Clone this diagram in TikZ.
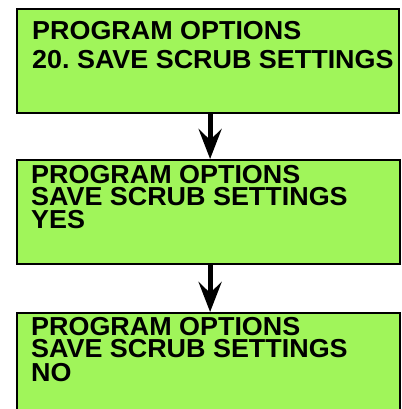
\documentclass[tikz,border=0pt]{standalone}
\usepackage{fontspec}
\setmainfont{Liberation Sans}
\newfontfamily\lcdfont{Liberation Sans}[FakeStretch=1.035]
\usetikzlibrary{arrows.meta}
\definecolor{lcdgreen}{RGB}{160,245,90}
\frenchspacing
\begin{document}
\begin{tikzpicture}[x=1pt,y=-1pt,
  lcdbox/.style={draw=black, line width=2.2pt, fill=lcdgreen, rectangle, inner sep=0pt, anchor=north west},
  lcdline/.style={anchor=base west, inner sep=0pt, font=\lcdfont\fontsize{26}{26}\selectfont\bfseries\frenchspacing},
  flow/.style={line width=5pt, -{Stealth[length=30pt,width=23pt,inset=11pt]}}]
\useasboundingbox (0,0) rectangle (401,409);
\fill[white] (0,0) rectangle (401,409);
\node[lcdbox, minimum width=382pt, minimum height=104pt] (b1) at (16,8) {};
\node[lcdbox, minimum width=383pt, minimum height=104pt] (b2) at (16,159) {};
\node[lcdbox, minimum width=383pt, minimum height=110pt] (b3) at (16,312) {};
\node[lcdline] (t11) at (32,39.3) {PROGRAM OPTIONS};
\node[lcdline] (t12) at (32,68.3) {20. SAVE SCRUB SETTINGS};
\node[lcdline] (t21) at (31,183.3) {PROGRAM OPTIONS};
\node[lcdline] (t22) at (31,205.5) {SAVE SCRUB SETTINGS};
\node[lcdline] (t23) at (31,228.3) {YES};
\node[lcdline] (t31) at (31,335) {PROGRAM OPTIONS};
\node[lcdline] (t32) at (31,357.5) {SAVE SCRUB SETTINGS};
\node[lcdline] (t33) at (31,381.5) {NO};
\draw[flow] ([xshift=2pt]b1.south) -- ([xshift=1.5pt]b2.north);
\draw[flow] ([xshift=1.5pt]b2.south) -- ([xshift=1.5pt]b3.north);
\end{tikzpicture}
\end{document}
